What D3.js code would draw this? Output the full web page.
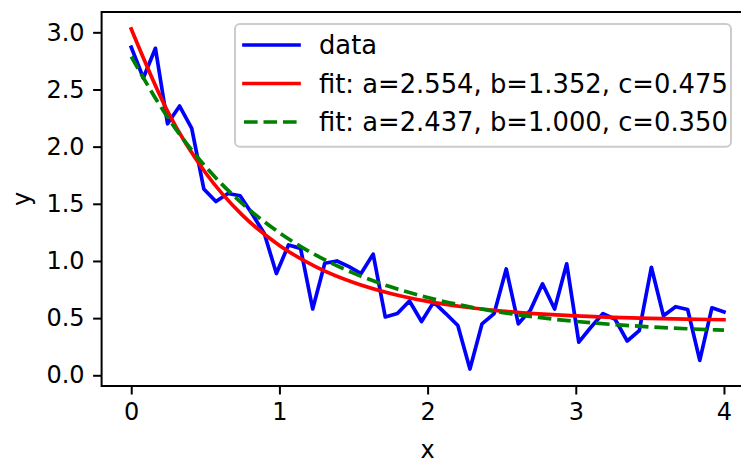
<!DOCTYPE html>
<html>
<head>
<meta charset="utf-8">
<script src="https://cdn.jsdelivr.net/npm/d3@7"></script>
<style>
  html, body { margin: 0; padding: 0; background: #fff; }
  svg { display: block; font-family: "DejaVu Sans", sans-serif; }
</style>
</head>
<body>
<svg id="chart" width="741" height="464"></svg>
<script>
// ---- data ----
const dataY = [2.87, 2.60, 2.86, 2.20, 2.355, 2.16, 1.63, 1.52, 1.59, 1.57,
               1.41, 1.24, 0.89, 1.14, 1.11, 0.58, 0.98, 1.00, 0.95, 0.89,
               1.06, 0.51, 0.54, 0.65, 0.47, 0.64, 0.54, 0.435, 0.055, 0.45,
               0.54, 0.93, 0.45, 0.57, 0.80, 0.58, 0.975, 0.29, 0.42, 0.54,
               0.49, 0.30, 0.39, 0.945, 0.52, 0.60, 0.575, 0.13, 0.59, 0.555];
const dataXMax = 4;
const fitX = [0, 0.25, 0.5, 0.75, 1, 1.25, 1.5, 1.75, 2, 2.25, 2.5, 2.75, 3, 3.25, 3.5, 3.75, 4];
const fit1Y = [3.029, 2.297, 1.774, 1.401, 1.136, 0.946, 0.811, 0.715, 0.646, 0.597, 0.562, 0.537, 0.519, 0.507, 0.4975, 0.491, 0.486];
const fit2Y = [2.787, 2.248, 1.828, 1.501, 1.2465, 1.048, 0.894, 0.7735, 0.680, 0.607, 0.550, 0.506, 0.471, 0.4445, 0.4236, 0.4073, 0.3946];
const xTicks = [0, 1, 2, 3, 4];
const yTicks = [0.0, 0.5, 1.0, 1.5, 2.0, 2.5, 3.0];
const legendLabels = ["data", "fit: a=2.554, b=1.352, c=0.475", "fit: a=2.437, b=1.000, c=0.350"];

// ---- layout ----
const svg = d3.select("#chart");
const axL = 101.6, axT = 12, axB = 386, axR = 753.6;
const FS = 24, LFS = 25.8;

const dataX = dataY.map((_, i) => i * dataXMax / (dataY.length - 1));
const allY = dataY.concat(fit1Y, fit2Y);
const yMin = d3.min(allY), yMax = d3.max(allY), yPad = 0.05 * (yMax - yMin);
const xPad = 0.05 * dataXMax;

const x = d3.scaleLinear().domain([-xPad, dataXMax + xPad]).range([axL, axR]);
const y = d3.scaleLinear().domain([yMin - yPad, yMax + yPad]).range([axB, axT]);

svg.append("defs").append("clipPath").attr("id", "clip")
  .append("rect").attr("x", axL).attr("y", axT).attr("width", axR - axL).attr("height", axB - axT);

const plot = svg.append("g").attr("clip-path", "url(#clip)");

const lineData = d3.line().x(d => x(d[0])).y(d => y(d[1]));
const lineFit = d3.line().x(d => x(d[0])).y(d => y(d[1])).curve(d3.curveMonotoneX);

plot.append("path")
  .datum(dataX.map((xv, i) => [xv, dataY[i]]))
  .attr("d", lineData).attr("fill", "none")
  .attr("stroke", "#0000ff").attr("stroke-width", 3.7)
  .attr("stroke-linejoin", "round").attr("stroke-linecap", "square");

plot.append("path")
  .datum(fitX.map((xv, i) => [xv, fit1Y[i]]))
  .attr("d", lineFit).attr("fill", "none")
  .attr("stroke", "#ff0000").attr("stroke-width", 3.7)
  .attr("stroke-linecap", "square");

plot.append("path")
  .datum(fitX.map((xv, i) => [xv, fit2Y[i]]))
  .attr("d", lineFit).attr("fill", "none")
  .attr("stroke", "#008000").attr("stroke-width", 3.7)
  .attr("stroke-dasharray", "13.6,5.9");

// ---- axes ----
const xAxis = d3.axisBottom(x).tickValues(xTicks).tickFormat(d3.format("d"))
  .tickSize(8.5).tickPadding(8.5);
const yAxis = d3.axisLeft(y).tickValues(yTicks).tickFormat(d3.format(".1f"))
  .tickSize(8.5).tickPadding(8.5);

const gx = svg.append("g").attr("transform", `translate(0,${axB})`).call(xAxis);
const gy = svg.append("g").attr("transform", `translate(${axL},0)`).call(yAxis);
[gx, gy].forEach(g => {
  g.select(".domain").remove();
  g.selectAll(".tick line").attr("stroke", "#000").attr("stroke-width", 2);
  g.selectAll(".tick text").attr("fill", "#000").attr("font-size", FS)
    .attr("font-family", "DejaVu Sans, sans-serif");
});

// spines
svg.append("rect").attr("x", axL).attr("y", axT)
  .attr("width", axR - axL).attr("height", axB - axT)
  .attr("fill", "none").attr("stroke", "#000").attr("stroke-width", 2);

// axis labels
svg.append("text").attr("x", (axL + axR) / 2).attr("y", 458)
  .attr("text-anchor", "middle").attr("font-size", FS).text("x");
svg.append("text").attr("transform", `translate(30,${(axT + axB) / 2}) rotate(-90)`)
  .attr("text-anchor", "middle").attr("font-size", FS).text("y");

// ---- legend ----
const lg = svg.append("g");
lg.append("rect").attr("x", 235).attr("y", 24).attr("width", 496).attr("height", 122.7)
  .attr("rx", 5).attr("fill", "#fff").attr("fill-opacity", 0.8)
  .attr("stroke", "#cccccc").attr("stroke-width", 2);
const legendStyles = [
  { c: "#0000ff", dash: null },
  { c: "#ff0000", dash: null },
  { c: "#008000", dash: "13.6,5.9" }
];
const rowY = [45, 83.5, 122];
legendLabels.forEach((lab, i) => {
  const l = lg.append("line").attr("x1", 244).attr("x2", 299)
    .attr("y1", rowY[i]).attr("y2", rowY[i])
    .attr("stroke", legendStyles[i].c).attr("stroke-width", 3.7);
  if (legendStyles[i].dash) l.attr("stroke-dasharray", legendStyles[i].dash);
  else l.attr("stroke-linecap", "square");
  lg.append("text").attr("x", 319).attr("y", rowY[i]).attr("dy", "0.36em")
    .attr("font-size", LFS).attr("fill", "#000").text(lab);
});
</script>
</body>
</html>
